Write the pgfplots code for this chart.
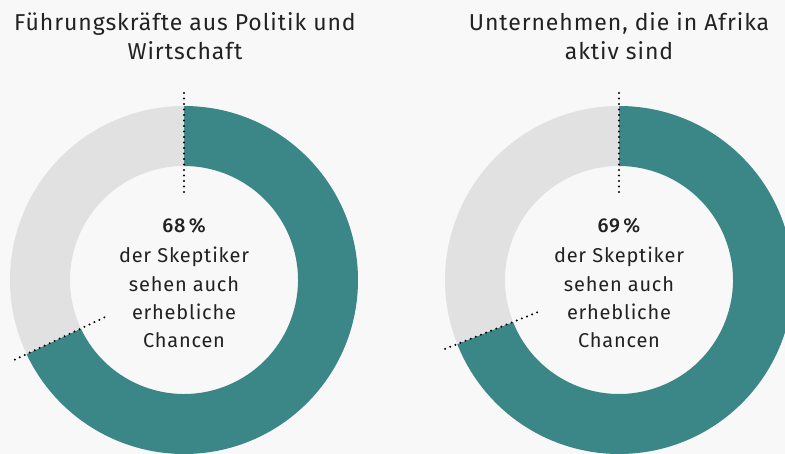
\documentclass[border=0pt]{standalone}
\usepackage{pgfplots}
\pgfplotsset{compat=1.18}
\usepackage{pgfplotstable}
\usepackage{fontspec}
\setmainfont[LetterSpace=4]{Fira Sans}
\newfontfamily\medium[LetterSpace=4]{Fira Sans Medium}
\definecolor{tealA}{HTML}{3B8686}
\definecolor{ringgray}{HTML}{E1E1E1}
\definecolor{bg}{HTML}{F8F8F8}
\definecolor{txt}{HTML}{222222}

\pgfplotstableread{
group share
1 68
2 69
}\shares
\pgfplotstablegetelem{0}{share}\of\shares \let\shareA\pgfplotsretval
\pgfplotstablegetelem{1}{share}\of\shares \let\shareB\pgfplotsretval
\pgfmathsetmacro\angA{90-3.6*\shareA}
\pgfmathsetmacro\angB{90-3.6*\shareB}

% #1 cx, #2 cy, #3 start angle, #4 end angle, colour #5
\newcommand\seg[5]{%
  \fill[#5] (axis cs:#1,#2) ++(#3:174bp) arc[start angle=#3,end angle=#4,radius=174bp]
    -- ++(#4+180:60bp) arc[start angle=#4,end angle=#3,radius=114bp] -- cycle;}

\tikzset{dots/.style={line width=2.2bp,line cap=round,dash pattern=on 0bp off 5.5bp,black}}

\begin{document}
\begin{tikzpicture}
\fill[bg] (0,0) rectangle (785bp,454bp);
\begin{axis}[at={(0,0)},anchor=south west,scale only axis,
  width=785bp,height=454bp,xmin=0,xmax=785,ymin=0,ymax=454,
  hide axis,clip=true]
  % left donut
  \seg{184}{174}{90}{\angA}{tealA}
  \seg{184}{174}{\angA+360}{90}{ringgray}
  % right donut
  \seg{619}{174}{90}{\angB}{tealA}
  \seg{619}{174}{\angB+360}{90}{ringgray}
  % dotted markers
  \draw[dots] (axis cs:184,174) ++(90:88bp) -- ++(90:104bp);
  \draw[dots] (axis cs:184,174) ++(\angA:88bp) -- ++(\angA:104bp);
  \draw[dots] (axis cs:619,174) ++(90:88bp) -- ++(90:104bp);
  \draw[dots] (axis cs:619,174) ++(\angB:88bp) -- ++(\angB:104bp);
  % titles
  \begin{scope}[every node/.style={txt,font=\fontsize{23bp}{27bp}\selectfont,anchor=base,inner sep=0pt}]
  \node at (axis cs:185,423) {Führungskräfte aus Politik und};
  \node at (axis cs:185,394) {Wirtschaft};
  \node at (axis cs:619,423) {Unternehmen, die in Afrika};
  \node at (axis cs:619,394) {aktiv sind};
  \end{scope}
  \begin{scope}[every node/.style={txt,font=\fontsize{20bp}{24bp}\selectfont,anchor=base,inner sep=0pt}]
  \node[font=\fontsize{20bp}{24bp}\selectfont\medium] at (axis cs:184,221) {\shareA\,\%};
  \node at (axis cs:184,191) {der Skeptiker};
  \node at (axis cs:184,162) {sehen auch};
  \node at (axis cs:184,134) {erhebliche};
  \node at (axis cs:184,106) {Chancen};
  \node[font=\fontsize{20bp}{24bp}\selectfont\medium] at (axis cs:619,221) {\shareB\,\%};
  \node at (axis cs:619,191) {der Skeptiker};
  \node at (axis cs:619,162) {sehen auch};
  \node at (axis cs:619,134) {erhebliche};
  \node at (axis cs:619,106) {Chancen};
  \end{scope}
\end{axis}
\pgfresetboundingbox
\path (0,0) rectangle (785bp,454bp);
\end{tikzpicture}
\end{document}
